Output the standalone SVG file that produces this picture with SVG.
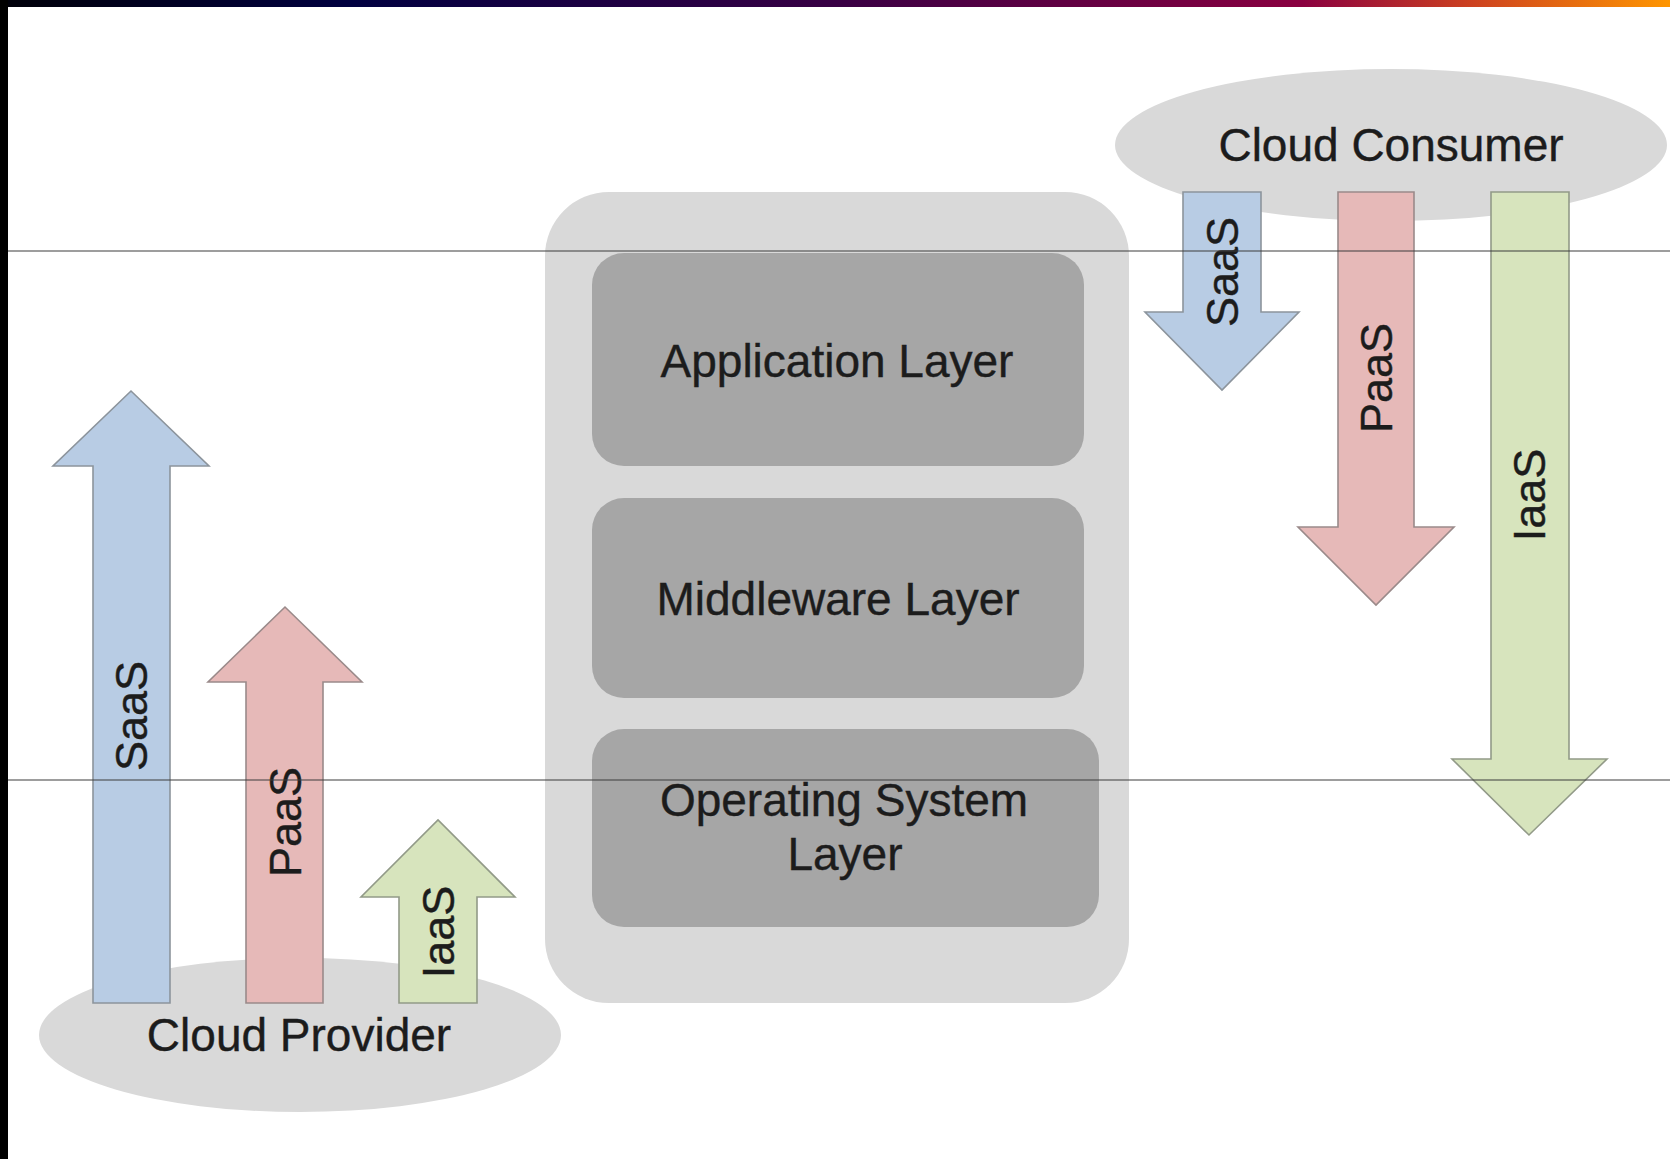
<svg xmlns="http://www.w3.org/2000/svg" width="1670" height="1159" viewBox="0 0 1670 1159">
<defs>
<linearGradient id="topbar" x1="0" y1="0" x2="1" y2="0">
<stop offset="0" stop-color="#000008"/>
<stop offset="0.21" stop-color="#000040"/>
<stop offset="0.5" stop-color="#380044"/>
<stop offset="0.78" stop-color="#8a0040"/>
<stop offset="0.88" stop-color="#cc4020"/>
<stop offset="1" stop-color="#ff9600"/>
</linearGradient>
</defs>
<style>
.lbl{font-family:"Liberation Sans",Arial,sans-serif;font-size:46px;fill:#1c1c1c;text-anchor:middle;stroke:#1c1c1c;stroke-width:0.4}
.albl{font-family:"Liberation Sans",Arial,sans-serif;font-size:45px;fill:#1c1c1c;text-anchor:middle;dominant-baseline:central;stroke:#1c1c1c;stroke-width:0.4}
.ell{fill:#d9d9d9}
.outer{fill:#d9d9d9}
.layer{fill:#a6a6a6}
.blue{fill:#b8cce4;stroke:#8c949c;stroke-width:1.6}
.pink{fill:#e6b9b8;stroke:#9a8a8a;stroke-width:1.6}
.green{fill:#d7e4bd;stroke:#929a88;stroke-width:1.6}
.rule{stroke:#3c3c3c;stroke-width:1.2}
</style>
<rect x="0" y="0" width="1670" height="1159" fill="#ffffff"/>
<rect x="0" y="0" width="1670" height="7" fill="url(#topbar)"/>
<rect x="0" y="0" width="8" height="1159" fill="#000000"/>

<g id="cloud-consumer">
<ellipse class="ell" cx="1391" cy="145" rx="276" ry="76"/>
<text class="lbl" x="1391" y="161">Cloud Consumer</text>
</g>
<g id="cloud-provider">
<ellipse class="ell" cx="300" cy="1035" rx="261" ry="77"/>
<text class="lbl" x="299" y="1051">Cloud Provider</text>
</g>

<g id="stack">
<rect class="outer" x="545" y="192" width="584" height="811" rx="64" ry="64"/>
<g id="application-layer">
<rect class="layer" x="592" y="253" width="492" height="213" rx="32" ry="32"/>
<text class="lbl" x="837" y="377">Application Layer</text>
</g>
<g id="middleware-layer">
<rect class="layer" x="592" y="498" width="492" height="200" rx="32" ry="32"/>
<text class="lbl" x="838" y="615">Middleware Layer</text>
</g>
<g id="os-layer">
<rect class="layer" x="592" y="729" width="507" height="198" rx="32" ry="32"/>
<text class="lbl" x="844" y="816">Operating System</text>
<text class="lbl" x="845" y="870">Layer</text>
</g>
</g>

<g id="connectors">
<g id="provider-saas">
<polygon class="blue" points="93,1003 93,466 53,466 131,391 209,466 170,466 170,1003"/>
<text class="albl" x="131" y="716" transform="rotate(-90 131 716)">SaaS</text>
</g>
<g id="provider-paas">
<polygon class="pink" points="246,1003 246,682 208,682 285,607 362,682 323,682 323,1003"/>
<text class="albl" x="285" y="822" transform="rotate(-90 285 822)">PaaS</text>
</g>
<g id="provider-iaas">
<polygon class="green" points="399,1003 399,897 361,897 438,820 515,897 477,897 477,1003"/>
<text class="albl" x="438" y="932" transform="rotate(-90 438 932)">IaaS</text>
</g>
<g id="consumer-saas">
<polygon class="blue" points="1183,192 1261,192 1261,312 1299,312 1222,390 1145,312 1183,312"/>
<text class="albl" x="1222" y="272" transform="rotate(-90 1222 272)">SaaS</text>
</g>
<g id="consumer-paas">
<polygon class="pink" points="1338,192 1414,192 1414,527 1454,527 1376,605 1298,527 1338,527"/>
<text class="albl" x="1376" y="378" transform="rotate(-90 1376 378)">PaaS</text>
</g>
<g id="consumer-iaas">
<polygon class="green" points="1491,192 1569,192 1569,759 1607,759 1529,835 1452,759 1491,759"/>
<text class="albl" x="1529" y="495" transform="rotate(-90 1529 495)">IaaS</text>
</g>
</g>

<line class="rule" x1="8" y1="251" x2="1670" y2="251"/>
<line class="rule" x1="8" y1="780" x2="1670" y2="780"/>
</svg>
